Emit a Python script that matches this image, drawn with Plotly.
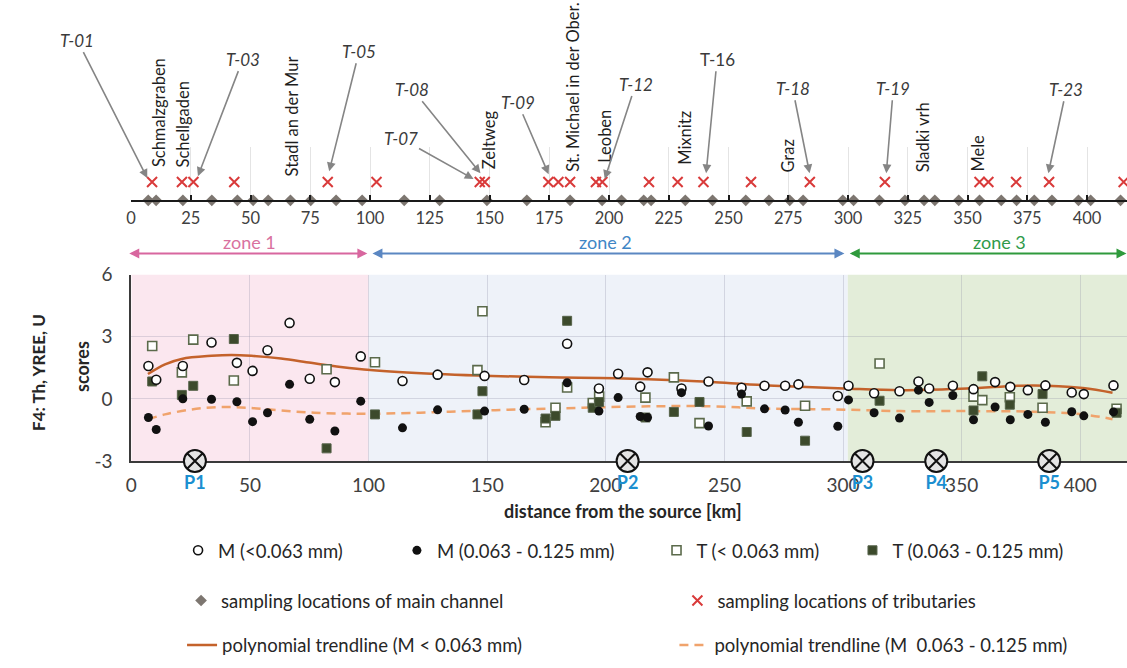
import plotly.graph_objects as go

FONT = "Lato, 'Open Sans', sans-serif"
W, H = 1127, 668

# ---------------------------------------------------------------- data
# main channel sampling sites, distance from the source [km]
main_km = [7.2, 10.5, 21.7, 33.8, 44.5, 51.1, 57.4, 66.7, 75.2, 85.8, 96.7,
           114.3, 129.1, 148.9, 165.6, 183.7, 197.1, 205.2, 214.5, 217.6, 231.9, 243.3,
           257.2, 266.9, 275.6, 281.2, 297.8, 302.3, 313.1, 323.8, 331.8, 336.3, 346.3,
           355.0, 364.1, 370.5, 377.9, 385.3, 396.4, 401.5, 414.0]

# F4 scores, main channel, fraction < 0.063 mm
m_fine = [1.59, 0.92, 1.59, 2.72, 1.74, 1.35, 2.35, 3.67, 0.97, 0.81, 2.05,
          0.86, 1.17, 1.11, 0.91, 2.66, 0.50, 1.21, 0.59, 1.28, 0.50, 0.84,
          0.54, 0.63, 0.63, 0.70, 0.14, 0.63, 0.27, 0.37, 0.84, 0.50, 0.63,
          0.47, 0.81, 0.58, 0.42, 0.65, 0.31, 0.23, 0.65]

# F4 scores, main channel, fraction 0.063 - 0.125 mm
m_coarse = [-0.90, -1.48, 0.00, -0.02, -0.14, -1.10, -0.67, 0.70, -0.99, -1.55, -0.11,
            -1.40, -0.53, -0.59, -0.50, 0.78, -0.59, 0.06, -0.85, -0.90, 0.30, -1.31,
            0.23, -0.48, -0.54, -1.13, -1.32, -0.05, -0.67, -0.93, 0.42, -0.17, 0.16,
            -1.01, -0.39, -1.01, -0.75, -1.13, -0.62, -0.82, -0.63]

# tributary sampling sites [km]
trib_km = [8.8, 21.3, 26.1, 43.2, 82.3, 102.7, 145.9, 148.0, 174.6, 178.8, 183.7, 194.5,
           197.2, 216.7, 228.7, 239.5, 259.4, 284.0, 315.4, 355.0, 358.7, 370.3, 384.1, 415.3]

# F4 scores, tributaries, fraction < 0.063 mm
t_fine = [2.55, 1.28, 2.86, 0.89, 1.43, 1.77, 1.39, 4.23, -1.13, -0.43, 0.55, -0.20,
          0.11, 0.06, 1.04, -1.17, -0.12, -0.33, 1.71, 0.11, -0.06, 0.08, -0.43, -0.48]

# F4 scores, tributaries, fraction 0.063 - 0.125 mm
t_coarse = [0.84, 0.19, 0.63, 2.89, -2.39, -0.75, -0.75, 0.37, -0.95, -0.82, 3.77, -0.43,
            -0.15, -0.90, -0.63, -0.15, -1.60, -2.02, -0.09, -0.56, 1.09, -0.28, 0.23, -0.67]

# polynomial trendline, M < 0.063 mm
trend_fine_km = [7, 14.2, 21.2, 33.8, 42.2, 50.6, 63.1, 75.7, 88.3, 100.8, 128.8, 148.3,
                 176.2, 204.2, 232.1, 244.7, 268.4, 300.5, 324.3, 352.2, 380.1, 401.1, 413.6]
trend_fine = [1.20, 1.67, 1.93, 2.08, 2.12, 2.08, 1.95, 1.74, 1.54, 1.39, 1.20, 1.12,
              1.04, 1.00, 0.89, 0.81, 0.65, 0.50, 0.42, 0.50, 0.65, 0.53, 0.30]

# polynomial trendline, M 0.063 - 0.125 mm
trend_coarse_km = [7, 14.2, 25.4, 36.6, 49.1, 63.1, 77.1, 91, 102.2, 134.3, 162.3, 190.2,
                   218.1, 244.7, 268.4, 296.3, 324.3, 352.2, 380.1, 401.1, 413.6]
trend_coarse = [-0.98, -0.75, -0.51, -0.40, -0.43, -0.56, -0.67, -0.71, -0.72, -0.62, -0.51,
                -0.43, -0.36, -0.36, -0.47, -0.51, -0.59, -0.59, -0.62, -0.75, -0.98]

# profiles P1..P5
profile_names = ["P1", "P2", "P3", "P4", "P5"]
profile_km = [26.8, 209.2, 308.2, 339.3, 386.9]

# towns along the river: name, km
towns = [("Schmalzgraben", 11.8), ("Schellgaden", 21.8), ("Stadl an der Mur", 67.5),
         ("Zeltweg", 149.5), ("St. Michael in der Ober.", 184.9), ("Leoben", 198.2),
         ("Mixnitz", 231.9), ("Graz", 274.8), ("Sladki vrh", 331.4), ("Mele", 354.3)]

# labelled tributaries: label, km the arrow points to
trib_labels = [("T-01", 6.8), ("T-03", 28.0), ("T-05", 82.9), ("T-07", 143.3),
               ("T-08", 146.2), ("T-09", 174.7), ("T-12", 198.2), ("T-16", 240.6),
               ("T-18", 283.9), ("T-19", 316.0), ("T-23", 383.8)]

# axis ticks
x_ticks = [0, 50, 100, 150, 200, 250, 300, 350, 400]
y_ticks = [-3, 0, 3, 6]
y_tick_text = ["-3", "0", "3", "6"]

zone_names = ["zone 1", "zone 2", "zone 3"]
zone_edges = [0, 100, 302, 420]

# ---------------------------------------------------------------- layout helpers
def px_x(p):
    return p / W


def px_y(p):
    return 1 - p / H


# pixel placement of the town labels (bottom of rotated text)
town_bottom = [163, 163, 172, 165, 167, 158, 160, 168, 168, 167]
# arrow heads (y px) and text offsets (dx, dy px) for tributary labels
trib_head_y = [172, 170, 165, 173, 167, 168, 173, 167, 167, 167, 167]
trib_offset = [(-70, -138), (45, -117), (30, -120), (-73, -41), (-68, -84), (-31, -72),
               (31, -95), (11, -114), (-17, -85), (7, -85), (18, -84)]
trib_italic = [True, True, True, True, True, True, True, False, True, True, True]

zone_fill = ["#fbe7ef", "#eef2f9", "#e3edd9"]
zone_line = ["#d8679f", "#5b87c2", "#2f9a3c"]
zone_text = ["#d9719f", "#3f86c6", "#2f9a4a"]
zone_arrow_span = [(-1.5, 99.5), (101.0, 300.6), (302.2, 419.5)]
zone_label_km = [50, 200, 366]

fig = go.Figure()

# ---------------------------------------------------------------- top strip: sampling sites
fig.add_trace(go.Scatter(
    x=main_km, y=[0] * len(main_km), xaxis="x2", yaxis="y2", mode="markers",
    name="sampling locations of main channel", legend="legend5", cliponaxis=False,
    marker=dict(symbol="diamond", size=9, color="#7d7670"),
))
fig.add_trace(go.Scatter(
    x=trib_km, y=[0.345] * len(trib_km), xaxis="x2", yaxis="y2", mode="markers",
    name="sampling locations of tributaries", legend="legend6", cliponaxis=False,
    marker=dict(symbol="x-thin", size=10, color="#d93a3a",
                line=dict(color="#d93a3a", width=2)),
))

# ---------------------------------------------------------------- main panel
fig.add_trace(go.Scatter(
    x=trend_fine_km, y=trend_fine, mode="lines", line_shape="spline",
    name="polynomial trendline (M < 0.063 mm)", legend="legend7",
    line=dict(color="#c4622b", width=2.5),
))
fig.add_trace(go.Scatter(
    x=trend_coarse_km, y=trend_coarse, mode="lines", line_shape="spline",
    name="polynomial trendline (M  0.063 - 0.125 mm)", legend="legend8",
    line=dict(color="#f0a36c", width=2.5, dash="9px,6px"),
))
fig.add_trace(go.Scatter(
    x=trib_km, y=t_fine, mode="markers", name="T (< 0.063 mm)", legend="legend3",
    marker=dict(symbol="square", size=9, color="white",
                line=dict(color="#5b6a4b", width=1.6)),
))
fig.add_trace(go.Scatter(
    x=trib_km, y=t_coarse, mode="markers", name="T (0.063 - 0.125 mm)", legend="legend4",
    marker=dict(symbol="square", size=9, color="#3c4a2c",
                line=dict(color="#56634a", width=1)),
))
fig.add_trace(go.Scatter(
    x=main_km, y=m_fine, mode="markers", name="M (<0.063 mm)", legend="legend",
    marker=dict(symbol="circle", size=9, color="white",
                line=dict(color="#111111", width=1.6)),
))
fig.add_trace(go.Scatter(
    x=main_km, y=m_coarse, mode="markers", name="M (0.063 - 0.125 mm)", legend="legend2",
    marker=dict(symbol="circle", size=9, color="#111111"),
))
fig.add_trace(go.Scatter(
    x=profile_km, y=[-3] * len(profile_km), mode="markers+text", text=profile_names,
    textposition="bottom center", cliponaxis=False, showlegend=False,
    textfont=dict(family=FONT, size=18, color="#1b8fd0", weight="bold"),
    marker=dict(symbol="circle-x", size=22, color="#e4e4e4",
                line=dict(color="#111111", width=2)),
))

# ---------------------------------------------------------------- shapes: zone shading
shapes = []
for i in range(3):
    shapes.append(dict(type="rect", xref="x", yref="y domain",
                       x0=zone_edges[i], x1=zone_edges[i + 1], y0=0, y1=1,
                       fillcolor=zone_fill[i], line=dict(width=0), layer="below"))

# ---------------------------------------------------------------- annotations
ann = []
for (name, km), b in zip(towns, town_bottom):
    ann.append(dict(x=km, xref="x2", y=px_y(b), yref="paper", text=name,
                    textangle=-90, xanchor="center", yanchor="bottom", showarrow=False,
                    font=dict(family=FONT, size=16.5, color="#1e1e1e")))

for (lab, km), hy, (dx, dy), it in zip(trib_labels, trib_head_y, trib_offset, trib_italic):
    ann.append(dict(x=km, xref="x2", y=px_y(hy), yref="paper", text=lab,
                    showarrow=True, ax=dx, ay=dy, axref="pixel", ayref="pixel",
                    arrowhead=2, arrowsize=1.1, arrowwidth=1.6, arrowcolor="#858585",
                    font=dict(family=FONT, size=17, color="#3a3a3a",
                              style="italic" if it else "normal")))

for i in range(3):
    a0, a1 = zone_arrow_span[i]
    ann.append(dict(x=a1, xref="x", y=px_y(250), yref="paper", ax=a0, axref="x",
                    ay=0, ayref="pixel", text="", showarrow=True,
                    arrowside="end+start", arrowhead=2, arrowsize=1.0, arrowwidth=2,
                    arrowcolor=zone_line[i]))
    ann.append(dict(x=zone_label_km[i], xref="x", y=px_y(238), yref="paper",
                    text=zone_names[i], showarrow=False, xanchor="center",
                    yanchor="middle",
                    font=dict(family=FONT, size=18, color=zone_text[i])))

ann.append(dict(x=px_x(620), y=px_y(517), xref="paper", yref="paper",
                xanchor="center", yanchor="middle",
                text="distance from the source [km]", showarrow=False,
                font=dict(family=FONT, size=18, color="#262626", weight="bold")))
ann.append(dict(x=px_x(77), y=px_y(367), xref="paper", yref="paper", text="scores",
                xanchor="center", yanchor="middle", textangle=-90, showarrow=False,
                font=dict(family=FONT, size=18, color="#262626", weight="bold")))
ann.append(dict(x=px_x(32), y=px_y(373), xref="paper", yref="paper",
                xanchor="center", yanchor="middle",
                text="F4: Th, YREE, U", textangle=-90, showarrow=False,
                font=dict(family=FONT, size=17, color="#262626", weight="bold")))

# ---------------------------------------------------------------- legends
legend_pos = {"legend": (173, 558), "legend2": (393, 558), "legend3": (654, 558),
              "legend4": (851, 558), "legend5": (176, 610), "legend6": (675, 610),
              "legend7": (177, 656), "legend8": (672, 656)}
legend_layout = {}
for key, (lx, ly) in legend_pos.items():
    legend_layout[key] = dict(x=px_x(lx), y=px_y(ly), xanchor="left", yanchor="middle",
                              orientation="h", bgcolor="rgba(0,0,0,0)", borderwidth=0,
                              font=dict(family=FONT, size=18.5, color="#262626"))

fig.update_layout(
    width=W, height=H, autosize=False,
    margin=dict(l=0, r=0, t=0, b=0),
    paper_bgcolor="white", plot_bgcolor="rgba(0,0,0,0)",
    font=dict(family=FONT, color="#404040"),
    xaxis=dict(domain=[px_x(126), 1], range=[0, 419.7], anchor="y",
               tickvals=x_ticks,
               showgrid=True, gridcolor="rgba(140,140,165,0.28)", gridwidth=1,
               zeroline=False, showline=True, linecolor="#3a3a3a", linewidth=2,
               ticks="", ticklabelstandoff=6, layer="below traces",
               tickfont=dict(family=FONT, size=19, color="#404040")),
    yaxis=dict(domain=[px_y(465), px_y(272)], range=[-3, 6], anchor="x",
               tickvals=y_ticks, ticktext=y_tick_text, showgrid=True,
               gridcolor="rgba(140,140,165,0.28)", gridwidth=1, zeroline=False,
               showline=True, linecolor="#3a3a3a", linewidth=2, ticks="",
               ticklabelstandoff=13, layer="below traces",
               tickfont=dict(family=FONT, size=19, color="#404040")),
    xaxis2=dict(domain=[px_x(125.7), 1], range=[0, 416.7], anchor="y2",
                tick0=0, dtick=25, showgrid=True, gridcolor="#e4e4e4", gridwidth=1,
                zeroline=False, showline=True, linecolor="#1a1a1a", linewidth=2,
                ticks="inside", ticklen=5, tickwidth=1.5, tickcolor="#1a1a1a",
                ticklabelstandoff=2,
                tickfont=dict(family=FONT, size=16.5, color="#404040")),
    yaxis2=dict(domain=[px_y(195), px_y(140)], range=[0, 1], anchor="x2",
                visible=False, showgrid=False, zeroline=False),
    shapes=shapes,
    annotations=ann,
    **legend_layout,
)

fig.write_html("out.html")
